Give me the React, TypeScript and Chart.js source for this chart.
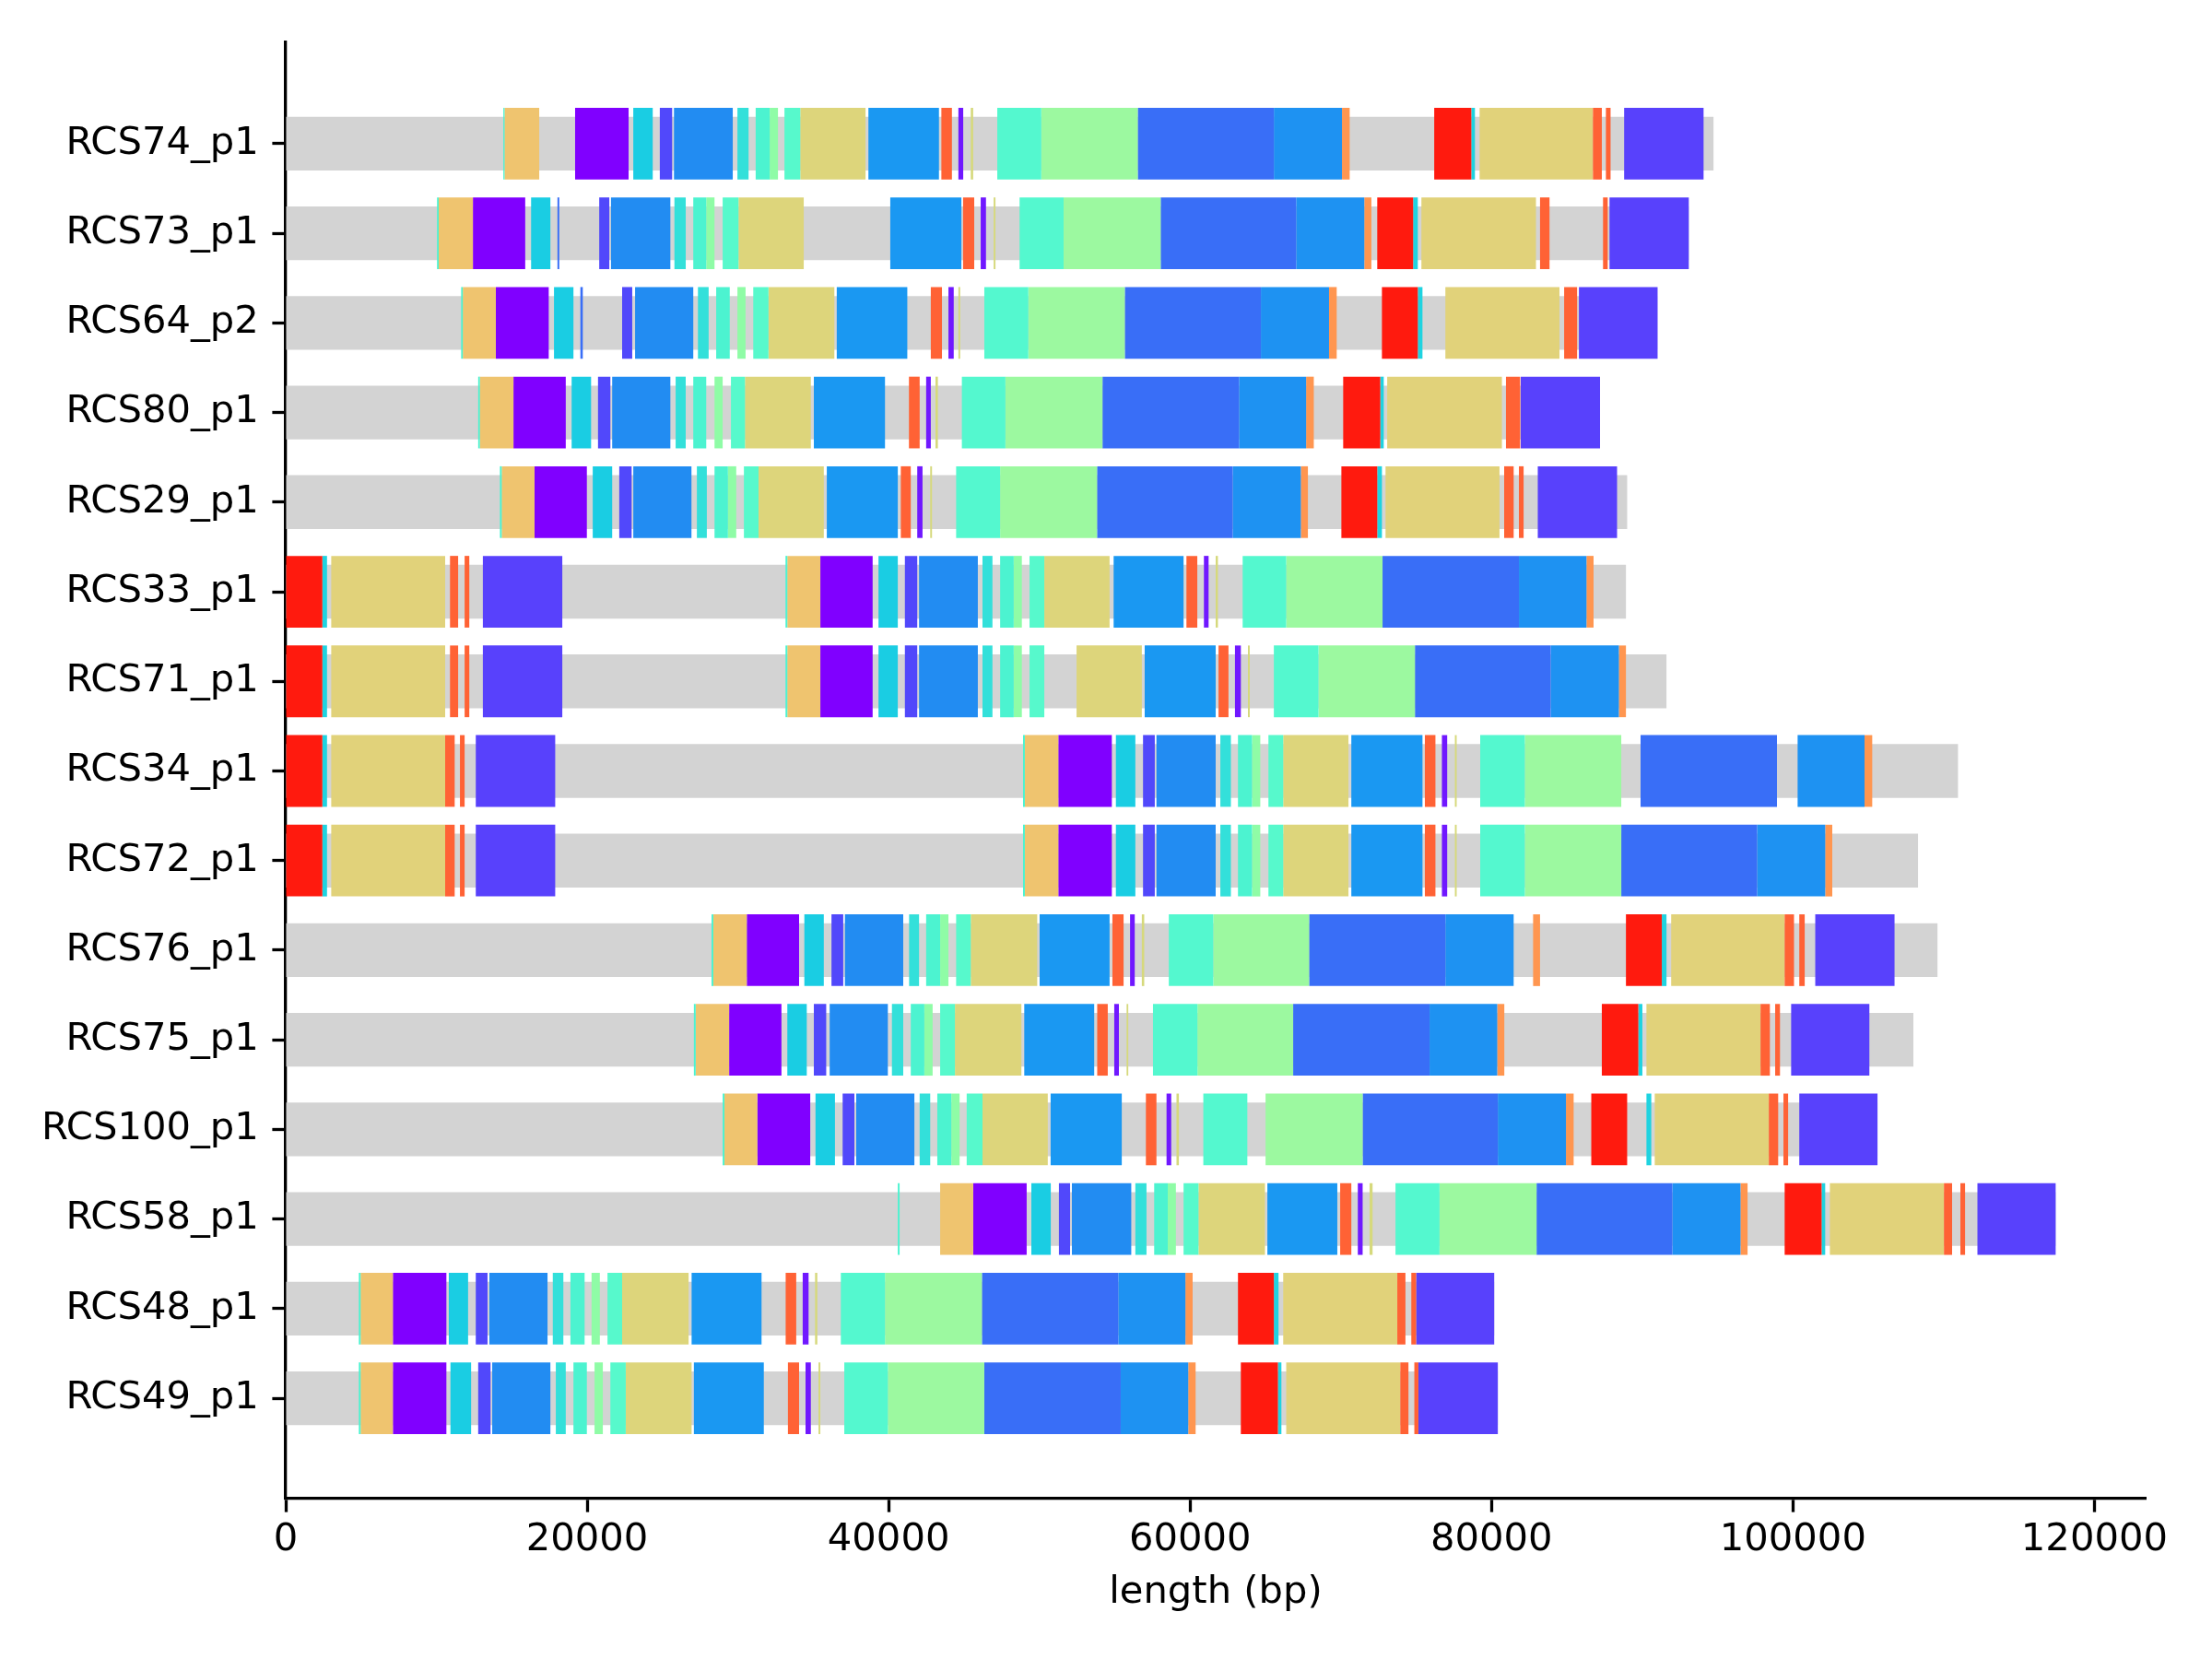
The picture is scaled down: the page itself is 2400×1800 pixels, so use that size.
import React, { useEffect, useRef } from 'react';
import { Chart, registerables } from 'chart.js';

Chart.register(...registerables);

type Seg = [number, number, string];

const rowNames = [
  'RCS74_p1', 'RCS73_p1', 'RCS64_p2', 'RCS80_p1', 'RCS29_p1', 'RCS33_p1', 'RCS71_p1', 'RCS34_p1',
  'RCS72_p1', 'RCS76_p1', 'RCS75_p1', 'RCS100_p1', 'RCS58_p1', 'RCS48_p1', 'RCS49_p1',
];

const rowLengths = [
  94730, 93090, 91000, 87200, 89000, 88920, 91610, 110950,
  108300, 109590, 107990, 105610, 117430, 80180, 80420,
];

const xTickValues = [0, 20000, 40000, 60000, 80000, 100000, 120000];

const RCS74_p1: Seg[] = [
  [14440, 14520, 'aqua'], [14520, 16820, 'tan'], [19200, 22750, 'pur'], [23060, 24350, 'cyan'],
  [24820, 25640, 'vio'], [25760, 29660, 'blu1'], [29970, 30710, 'teal'], [31180, 32110, 'aqua'],
  [32110, 32660, 'mint'], [33090, 34140, 'aqu2'], [34140, 38470, 'kha1'], [38660, 43340, 'blu2'],
  [43500, 44200, 'ored'], [44630, 44950, 'vlt'], [45450, 45610, 'ythn'], [47210, 50130, 'aqub'],
  [50130, 56530, 'lgrn'], [56530, 65560, 'roya'], [65560, 70080, 'blu3'], [70080, 70590, 'orng'],
  [76200, 78660, 'red'], [78660, 78900, 'cyth'], [79210, 86730, 'kha2'], [86730, 87320, 'ored'],
  [87590, 87900, 'ored'], [88800, 94070, 'bvio'],
];

const RCS73_p1: Seg[] = [
  [10040, 10150, 'aqua'], [10150, 12420, 'tan'], [12420, 15890, 'pur'], [16280, 17560, 'cyan'],
  [18030, 18150, 'roya'], [20800, 21470, 'vio'], [21580, 25520, 'blu1'], [25790, 26540, 'teal'],
  [27040, 27900, 'aqua'], [27900, 28450, 'mint'], [28990, 30040, 'aqu2'], [30040, 34370, 'kha1'],
  [40110, 44830, 'blu2'], [44940, 45680, 'ored'], [46110, 46460, 'vlt'], [46970, 47090, 'ythn'],
  [48690, 51610, 'aqub'], [51610, 58050, 'lgrn'], [58050, 67040, 'roya'], [67040, 71560, 'blu3'],
  [71560, 72030, 'orng'], [72420, 74800, 'red'], [74800, 75110, 'cyth'], [75350, 82950, 'kha2'],
  [83220, 83850, 'ored'], [87400, 87710, 'ored'], [87830, 93090, 'bvio'],
];

const RCS64_p2: Seg[] = [
  [11640, 11750, 'aqua'], [11750, 13940, 'tan'], [13940, 17450, 'pur'], [17800, 19090, 'cyan'],
  [19550, 19710, 'roya'], [22320, 22990, 'vio'], [23180, 27040, 'blu1'], [27350, 28060, 'teal'],
  [28560, 29460, 'aqua'], [29970, 30510, 'mint'], [31020, 32030, 'aqu2'], [32030, 36400, 'kha1'],
  [36560, 41240, 'blu2'], [42800, 43540, 'ored'], [43970, 44320, 'vlt'], [44630, 44750, 'ythn'],
  [46350, 49270, 'aqub'], [49270, 55670, 'lgrn'], [55670, 64700, 'roya'], [64700, 69220, 'blu3'],
  [69220, 69730, 'orng'], [72730, 75110, 'red'], [75110, 75420, 'cyth'], [76940, 84510, 'kha2'],
  [84820, 85680, 'ored'], [85800, 91020, 'bvio'],
];

const RCS80_p1: Seg[] = [
  [12770, 12880, 'aqua'], [12880, 15110, 'tan'], [15110, 18580, 'pur'], [18970, 20260, 'cyan'],
  [20720, 21540, 'vio'], [21660, 25520, 'blu1'], [25870, 26540, 'teal'], [27040, 27900, 'aqua'],
  [28450, 28990, 'mint'], [29540, 30470, 'aqu2'], [30470, 34840, 'kha1'], [35040, 39760, 'blu2'],
  [41350, 42060, 'ored'], [42490, 42800, 'vlt'], [43110, 43270, 'ythn'], [44860, 47750, 'aqub'],
  [47750, 54190, 'lgrn'], [54190, 63250, 'roya'], [63250, 67700, 'blu3'], [67700, 68210, 'orng'],
  [70160, 72620, 'red'], [72620, 72850, 'cyth'], [73080, 80690, 'kha2'], [80960, 81900, 'ored'],
  [81940, 87200, 'bvio'],
];

const RCS29_p1: Seg[] = [
  [14210, 14330, 'aqua'], [14330, 16510, 'tan'], [16510, 19980, 'pur'], [20370, 21660, 'cyan'],
  [22130, 22950, 'vio'], [23060, 26920, 'blu1'], [27280, 27940, 'teal'], [28450, 29340, 'aqua'],
  [29340, 29890, 'mint'], [30400, 31370, 'aqu2'], [31370, 35700, 'kha1'], [35900, 40610, 'blu2'],
  [40810, 41470, 'ored'], [41900, 42250, 'vlt'], [42760, 42880, 'ythn'], [44480, 47400, 'aqub'],
  [47400, 53830, 'lgrn'], [53830, 62830, 'roya'], [62830, 67350, 'blu3'], [67350, 67820, 'orng'],
  [70040, 72420, 'red'], [72420, 72730, 'cyth'], [72970, 80530, 'kha2'], [80840, 81470, 'ored'],
  [81820, 82130, 'ored'], [83070, 88330, 'bvio'],
];

const RCS33_p1: Seg[] = [
  [0, 2430, 'red'], [2430, 2740, 'cyth'], [3020, 10580, 'kha2'], [10900, 11440, 'ored'],
  [11870, 12180, 'ored'], [13080, 18350, 'bvio'], [33160, 33280, 'aqua'], [33280, 35470, 'tan'],
  [35470, 38940, 'pur'], [39330, 40610, 'cyan'], [41080, 41900, 'vio'], [42020, 45920, 'blu1'],
  [46230, 46890, 'teal'], [47400, 48300, 'aqua'], [48300, 48840, 'mint'], [49350, 50330, 'aqu2'],
  [50330, 54660, 'kha1'], [54930, 59570, 'blu2'], [59760, 60480, 'ored'], [60920, 61230, 'vlt'],
  [61700, 61850, 'ythn'], [63490, 66380, 'aqub'], [66380, 72770, 'lgrn'], [72770, 81820, 'roya'],
  [81820, 86300, 'blu3'], [86300, 86770, 'orng'],
];

const RCS71_p1: Seg[] = [
  [0, 2430, 'red'], [2430, 2740, 'cyth'], [3020, 10580, 'kha2'], [10900, 11440, 'ored'],
  [11870, 12180, 'ored'], [13080, 18350, 'bvio'], [33160, 33280, 'aqua'], [33280, 35470, 'tan'],
  [35470, 38940, 'pur'], [39330, 40610, 'cyan'], [41080, 41900, 'vio'], [42020, 45920, 'blu1'],
  [46230, 46890, 'teal'], [47400, 48300, 'aqua'], [48300, 48840, 'mint'], [49350, 50330, 'aqu2'],
  [52470, 56800, 'kha1'], [56990, 61700, 'blu2'], [61890, 62550, 'ored'], [62980, 63370, 'vlt'],
  [63840, 63960, 'ythn'], [65560, 68520, 'aqub'], [68520, 74920, 'lgrn'], [74920, 83930, 'roya'],
  [83930, 88450, 'blu3'], [88450, 88920, 'orng'],
];

const RCS34_p1: Seg[] = [
  [0, 2430, 'red'], [2430, 2740, 'cyth'], [3020, 10580, 'kha2'], [10580, 11210, 'ored'],
  [11560, 11870, 'ored'], [12610, 17880, 'bvio'], [48920, 49040, 'aqua'], [49040, 51260, 'tan'],
  [51260, 54810, 'pur'], [55080, 56370, 'cyan'], [56880, 57660, 'vio'], [57770, 61700, 'blu1'],
  [62010, 62710, 'teal'], [63180, 64110, 'aqua'], [64110, 64660, 'mint'], [65200, 66180, 'aqu2'],
  [66180, 70510, 'kha1'], [70700, 75420, 'blu2'], [75580, 76280, 'ored'], [76710, 77060, 'vlt'],
  [77570, 77690, 'ythn'], [79250, 82210, 'aqub'], [82210, 88610, 'lgrn'], [89890, 98940, 'roya'],
  [100310, 104750, 'blu3'], [104750, 105260, 'orng'],
];

const RCS72_p1: Seg[] = [
  [0, 2430, 'red'], [2430, 2740, 'cyth'], [3020, 10580, 'kha2'], [10580, 11210, 'ored'],
  [11560, 11870, 'ored'], [12610, 17880, 'bvio'], [48920, 49040, 'aqua'], [49040, 51260, 'tan'],
  [51260, 54810, 'pur'], [55080, 56370, 'cyan'], [56880, 57660, 'vio'], [57770, 61700, 'blu1'],
  [62010, 62710, 'teal'], [63180, 64110, 'aqua'], [64110, 64660, 'mint'], [65200, 66180, 'aqu2'],
  [66180, 70510, 'kha1'], [70700, 75420, 'blu2'], [75580, 76280, 'ored'], [76710, 77060, 'vlt'],
  [77570, 77690, 'ythn'], [79250, 82210, 'aqub'], [82210, 88610, 'lgrn'], [88610, 97620, 'roya'],
  [97620, 102140, 'blu3'], [102140, 102610, 'orng'],
];

const RCS76_p1: Seg[] = [
  [28250, 28370, 'aqua'], [28370, 30590, 'tan'], [30590, 34060, 'pur'], [34410, 35700, 'cyan'],
  [36210, 36990, 'vio'], [37100, 40970, 'blu1'], [41360, 42020, 'teal'], [42490, 43420, 'aqua'],
  [43420, 43970, 'mint'], [44480, 45450, 'aqu2'], [45450, 49860, 'kha1'], [50020, 54660, 'blu2'],
  [54850, 55590, 'ored'], [56020, 56330, 'vlt'], [56800, 56960, 'ythn'], [58590, 61540, 'aqub'],
  [61540, 67900, 'lgrn'], [67900, 76940, 'roya'], [76940, 81470, 'blu3'], [82760, 83220, 'orng'],
  [88920, 91300, 'red'], [91300, 91610, 'cyth'], [91920, 99450, 'kha2'], [99450, 100070, 'ored'],
  [100420, 100780, 'ored'], [101480, 106740, 'bvio'],
];

const RCS75_p1: Seg[] = [
  [27080, 27200, 'aqua'], [27200, 29420, 'tan'], [29420, 32890, 'pur'], [33280, 34570, 'cyan'],
  [35040, 35860, 'vio'], [36090, 39950, 'blu1'], [40220, 40970, 'teal'], [41470, 42370, 'aqua'],
  [42370, 42920, 'mint'], [43420, 44400, 'aqu2'], [44400, 48810, 'kha1'], [49000, 53640, 'blu2'],
  [53840, 54540, 'ored'], [54970, 55280, 'vlt'], [55790, 55900, 'ythn'], [57540, 60490, 'aqub'],
  [60490, 66840, 'lgrn'], [66840, 75890, 'roya'], [75890, 80380, 'blu3'], [80380, 80850, 'orng'],
  [87320, 89740, 'red'], [89740, 90010, 'cyth'], [90280, 97850, 'kha2'], [97850, 98470, 'ored'],
  [98820, 99140, 'ored'], [99880, 105070, 'bvio'],
];

const RCS100_p1: Seg[] = [
  [28990, 29110, 'aqua'], [29110, 31290, 'tan'], [31290, 34800, 'pur'], [35150, 36440, 'cyan'],
  [36950, 37730, 'vio'], [37850, 41710, 'blu1'], [42060, 42760, 'teal'], [43230, 44160, 'aqua'],
  [44160, 44710, 'mint'], [45180, 46230, 'aqu2'], [46230, 50560, 'kha1'], [50750, 55470, 'blu2'],
  [57070, 57770, 'ored'], [58440, 58750, 'vlt'], [59100, 59260, 'ythn'], [60880, 63800, 'aqub'],
  [65010, 71450, 'lgrn'], [71450, 80420, 'roya'], [80420, 84940, 'blu3'], [84940, 85450, 'orng'],
  [86620, 89000, 'red'], [90280, 90600, 'cyth'], [90830, 98400, 'kha2'], [98400, 99020, 'ored'],
  [99370, 99680, 'ored'], [100420, 105610, 'bvio'],
];

const RCS58_p1: Seg[] = [
  [40610, 40730, 'aqua'], [43420, 45610, 'tan'], [45610, 49160, 'pur'], [49470, 50760, 'cyan'],
  [51300, 52040, 'vio'], [52160, 56100, 'blu1'], [56370, 57110, 'teal'], [57620, 58520, 'aqua'],
  [58520, 59060, 'mint'], [59570, 60560, 'aqu2'], [60560, 64970, 'kha1'], [65130, 69770, 'blu2'],
  [69960, 70700, 'ored'], [71130, 71450, 'vlt'], [71910, 72110, 'ythn'], [73630, 76550, 'aqub'],
  [76550, 82990, 'lgrn'], [82990, 92000, 'roya'], [92000, 96520, 'blu3'], [96520, 96990, 'orng'],
  [99450, 101900, 'red'], [101900, 102140, 'cyth'], [102450, 110020, 'kha2'], [110020, 110560, 'ored'],
  [111110, 111420, 'ored'], [112240, 117430, 'bvio'],
];

const RCS48_p1: Seg[] = [
  [4850, 4970, 'aqua'], [4970, 7110, 'tan'], [7110, 10660, 'pur'], [10820, 12100, 'cyan'],
  [12610, 13390, 'vio'], [13510, 17370, 'blu1'], [17720, 18420, 'teal'], [18890, 19830, 'aqua'],
  [20290, 20840, 'mint'], [21350, 22320, 'aqu2'], [22320, 26730, 'kha1'], [26930, 31570, 'blu2'],
  [33170, 33870, 'ored'], [34300, 34690, 'vlt'], [35120, 35270, 'ythn'], [36830, 39760, 'aqub'],
  [39760, 46190, 'lgrn'], [46190, 55240, 'roya'], [55240, 59690, 'blu3'], [59690, 60170, 'orng'],
  [63180, 65560, 'red'], [65560, 65870, 'cyth'], [66180, 73750, 'kha2'], [73750, 74290, 'ored'],
  [74680, 75000, 'ored'], [75000, 80180, 'bvio'],
];

const RCS49_p1: Seg[] = [
  [4850, 4970, 'aqua'], [4970, 7110, 'tan'], [7110, 10660, 'pur'], [10930, 12300, 'cyan'],
  [12770, 13590, 'vio'], [13700, 17560, 'blu1'], [17920, 18580, 'teal'], [19090, 19980, 'aqua'],
  [20490, 21040, 'mint'], [21540, 22560, 'aqu2'], [22560, 26930, 'kha1'], [27080, 31720, 'blu2'],
  [33320, 34060, 'ored'], [34490, 34840, 'vlt'], [35350, 35470, 'ythn'], [37060, 39950, 'aqub'],
  [39950, 46350, 'lgrn'], [46350, 55400, 'roya'], [55400, 59880, 'blu3'], [59880, 60370, 'orng'],
  [63370, 65830, 'red'], [65830, 66060, 'cyth'], [66380, 73950, 'kha2'], [73950, 74490, 'ored'],
  [74880, 75150, 'ored'], [75150, 80420, 'bvio'],
];

const rowSegments: Seg[][] = [
  RCS74_p1, RCS73_p1, RCS64_p2, RCS80_p1, RCS29_p1, RCS33_p1, RCS71_p1, RCS34_p1,
  RCS72_p1, RCS76_p1, RCS75_p1, RCS100_p1, RCS58_p1, RCS48_p1, RCS49_p1,
];

const geneKeys = [
  'aqua', 'tan', 'pur', 'cyan', 'vio', 'blu1', 'teal', 'mint', 'aqu2', 'kha1', 'blu2', 'ored',
  'vlt', 'ythn', 'aqub', 'lgrn', 'roya', 'blu3', 'orng', 'red', 'cyth', 'kha2', 'bvio',
];

const geneColors: Record<string, string> = {
  aqua: '#4cf3d0', tan: '#efc46f', pur: '#8000ff', cyan: '#1acde3', vio: '#5148fb',
  blu1: '#228cf2', teal: '#33e0da', mint: '#8ffca6', aqu2: '#57f9cc', kha1: '#ddd57b',
  blu2: '#1a98f2', ored: '#ff6235', vlt: '#7018ff', ythn: '#d6d97c', aqub: '#54f8cf',
  lgrn: '#9cf9a0', roya: '#396ef7', blu3: '#1e92f2', orng: '#ff9650', red: '#ff1a0e',
  cyth: '#1fd3e0', kha2: '#e1d27a', bvio: '#5841fc',
};

const FONT = { family: 'DejaVu Sans', size: 41.7 };

export default function App() {
  const ref = useRef<HTMLCanvasElement>(null);

  useEffect(() => {
    if (!ref.current) return;
    const datasets: any[] = [
      {
        label: 'sequence',
        data: rowLengths.map((len, i) => ({ x: [0, len], y: i })),
        backgroundColor: '#d3d3d3',
        order: 1,
        grouped: false,
        categoryPercentage: 1,
        barPercentage: 0.6,
        borderWidth: 0,
      },
    ];
    for (const key of geneKeys) {
      const data: any[] = [];
      rowSegments.forEach((segs, i) => {
        segs.forEach(([s, e, k]) => {
          if (k === key) data.push({ x: [s, e], y: i });
        });
      });
      datasets.push({
        label: key,
        data,
        backgroundColor: geneColors[key],
        order: 0,
        grouped: false,
        categoryPercentage: 1,
        barPercentage: 0.8,
        borderWidth: 0,
      });
    }

    const chart = new Chart(ref.current, {
      type: 'bar',
      data: { datasets },
      options: {
        animation: false,
        responsive: false,
        devicePixelRatio: 1,
        indexAxis: 'y',
        layout: { padding: { left: 10, right: 72, top: 46, bottom: 0 } },
        plugins: { legend: { display: false }, tooltip: { enabled: false } },
        scales: {
          x: {
            type: 'linear',
            position: 'bottom',
            min: 0,
            max: 123400,
            z: 1,
            afterFit: (s: any) => { s.height = 174; },
            afterBuildTicks: (s: any) => { s.ticks = xTickValues.map((v) => ({ value: v })); },
            ticks: {
              callback: (v: any) => String(v),
              font: FONT,
              color: '#000',
              padding: 6,
              maxRotation: 0,
              autoSkip: false,
            },
            grid: {
              display: true,
              drawOnChartArea: false,
              drawTicks: true,
              tickLength: 14.6,
              tickWidth: 3.3,
              tickColor: '#000',
              color: '#000',
            },
            border: { display: true, color: '#000', width: 3.3 },
            title: {
              display: true,
              text: 'length (bp)',
              font: FONT,
              color: '#000',
              padding: { top: 0, bottom: 47 },
            },
          },
          y: {
            type: 'linear',
            position: 'left',
            min: -1.13,
            max: 15.12,
            reverse: true,
            offset: false,
            z: 1,
            afterFit: (s: any) => { s.width = 300; },
            afterBuildTicks: (s: any) => { s.ticks = rowNames.map((_, i) => ({ value: i })); },
            ticks: {
              callback: (v: any) => rowNames[v] ?? '',
              font: FONT,
              color: '#000',
              padding: 14.6,
              autoSkip: false,
            },
            grid: {
              display: true,
              offset: false,
              drawOnChartArea: false,
              drawTicks: true,
              tickLength: 14.6,
              tickWidth: 3.3,
              tickColor: '#000',
              color: '#000',
            },
            border: { display: true, color: '#000', width: 3.3 },
          },
        },
      } as any,
    });
    return () => chart.destroy();
  }, []);

  return (
    <div style={{ position: 'absolute', left: 0, top: 0, width: 2400, height: 1800, background: '#fff' }}>
      <canvas ref={ref} width={2400} height={1800} style={{ width: 2400, height: 1800, display: 'block' }} />
    </div>
  );
}
